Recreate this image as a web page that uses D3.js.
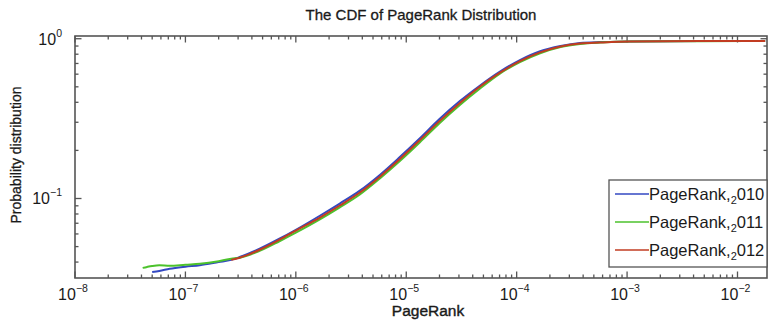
<!DOCTYPE html>
<html>
<head>
<meta charset="utf-8">
<script src="https://cdn.jsdelivr.net/npm/d3@7"></script>
<style>
  html, body { margin: 0; padding: 0; background: #fff; }
  svg { display: block; font-family: "Liberation Sans", Arial, sans-serif; }
</style>
</head>
<body>
<svg id="chart" width="771" height="325"></svg>
<script>
// PageRank values at which the cumulative distribution is sampled
const pagerank = [4.1e-8, 4.5e-8, 5.0e-8, 5.8e-8, 7.2e-8, 1.0e-7, 1.35e-7, 2.0e-7, 2.6e-7, 3.1e-7,
  4.7e-7, 7.1e-7, 1.0e-6, 1.65e-6, 2.5e-6, 3.8e-6, 5.8e-6, 8.7e-6, 1.33e-5, 2.0e-5,
  3.06e-5, 4.6e-5, 7.0e-5, 1.07e-4, 1.63e-4, 2.5e-4, 3.75e-4, 5.7e-4, 1.06e-3, 4.6e-3, 1.78e-2];

// cumulative probability per year (null = no sample)
const cdf2010 = [null, null, 0.0347, 0.0352, 0.0363, 0.0374, 0.0382, 0.0400, 0.0413, 0.0430,
  0.0485, 0.0560, 0.0637, 0.078, 0.093, 0.112, 0.141, 0.181, 0.238, 0.314,
  0.407, 0.506, 0.620, 0.735, 0.835, 0.900, 0.940, 0.953, 0.960, 0.967, 0.968];
const cdf2011 = [0.0368, 0.0373, 0.0378, 0.0382, 0.0379, 0.0385, 0.0390, 0.0405, 0.0420, 0.0426,
  0.0470, 0.0540, 0.0611, 0.0740, 0.0880, 0.106, 0.134, 0.171, 0.225, 0.296,
  0.385, 0.485, 0.603, 0.714, 0.811, 0.888, 0.927, 0.946, 0.960, 0.965, 0.968];
const cdf2012 = [null, null, null, null, null, null, null, null, 0.0413, 0.0426,
  0.0478, 0.0552, 0.0629, 0.076, 0.0904, 0.109, 0.1375, 0.176, 0.232, 0.305,
  0.396, 0.499, 0.611, 0.724, 0.822, 0.895, 0.933, 0.946, 0.960, 0.967, 0.968];

const seriesNames = ["2010", "2011", "2012"];
const seriesValues = [cdf2010, cdf2011, cdf2012];
const seriesColors = ["#3348c2", "#4cc22c", "#c23c22"];

const xTickExps = [-8, -7, -6, -5, -4, -3, -2];
const yTickExps = [-1, 0];

const title = "The CDF of PageRank Distribution";
const xLabel = "PageRank";
const yLabel = "Probability distribution";

const W = 771, H = 325;
const margin = { top: 36, right: 4, bottom: 47, left: 75 };
const iw = W - margin.left - margin.right;
const ih = H - margin.top - margin.bottom;

const svg = d3.select("#chart");
const g = svg.append("g").attr("transform", `translate(${margin.left},${margin.top})`);

const x = d3.scaleLog().domain([1e-8, 1.85e-2]).range([0, iw]);
const y = d3.scaleLog().domain([0.0318, 1.04]).range([ih, 0]);

const axisColor = "#555";
const textColor = "#1a1a1a";

// minor + major tick values
const xMinor = [];
for (let e = -8; e <= -2; e++) for (let m = 2; m <= 9; m++) {
  const v = m * Math.pow(10, e);
  if (v <= x.domain()[1]) xMinor.push(v);
}
const yMinor = [];
for (let e = -2; e <= -1; e++) for (let m = 2; m <= 9; m++) {
  const v = m * Math.pow(10, e);
  if (v >= y.domain()[0] && v <= 1) yMinor.push(v);
}
const xMajor = xTickExps.map(e => Math.pow(10, e));
const yMajor = yTickExps.map(e => Math.pow(10, e));

// plot frame
g.append("rect").attr("x", 0).attr("y", 0).attr("width", iw).attr("height", ih)
  .attr("fill", "none").attr("stroke", axisColor).attr("stroke-width", 1.6);

// inward ticks on all four sides
const tickG = g.append("g").attr("stroke", axisColor).attr("stroke-width", 1.3);
function xTicks(vals, len) {
  vals.forEach(v => {
    tickG.append("line").attr("x1", x(v)).attr("x2", x(v)).attr("y1", ih).attr("y2", ih - len);
    tickG.append("line").attr("x1", x(v)).attr("x2", x(v)).attr("y1", 0).attr("y2", len);
  });
}
function yTicks(vals, len) {
  vals.forEach(v => {
    tickG.append("line").attr("y1", y(v)).attr("y2", y(v)).attr("x1", 0).attr("x2", len);
    tickG.append("line").attr("y1", y(v)).attr("y2", y(v)).attr("x1", iw).attr("x2", iw - len);
  });
}
xTicks(xMinor, 3.5);
xTicks(xMajor, 6.5);
yTicks(yMinor, 3.5);
yTicks(yMajor, 6.5);

// tick labels 10^n
xTickExps.forEach(e => {
  const t = g.append("text").attr("x", x(Math.pow(10, e)) - 2).attr("y", ih + 22)
    .attr("text-anchor", "middle").attr("font-size", 16).attr("fill", textColor);
  t.append("tspan").text("10");
  t.append("tspan").attr("dy", -8).attr("font-size", 10.5).text("\u2212" + Math.abs(e));
});
yTickExps.forEach(e => {
  const t = g.append("text").attr("x", -13).attr("y", y(Math.pow(10, e)) + 6)
    .attr("text-anchor", "end").attr("font-size", 16).attr("fill", textColor);
  t.append("tspan").text("10");
  t.append("tspan").attr("dy", -8).attr("font-size", 10.5).text(e === 0 ? "0" : "\u2212" + Math.abs(e));
});

// title and axis labels
svg.append("text").attr("x", margin.left + iw / 2).attr("y", 20)
  .attr("text-anchor", "middle").attr("font-size", 15)
  .attr("fill", textColor).attr("stroke", textColor).attr("stroke-width", 0.3).text(title);
svg.append("text").attr("x", margin.left + iw / 2 + 7).attr("y", 316)
  .attr("text-anchor", "middle").attr("font-size", 15.5)
  .attr("fill", textColor).attr("stroke", textColor).attr("stroke-width", 0.4).text(xLabel);
svg.append("text").attr("transform", `translate(21,${margin.top + ih / 2 - 2}) rotate(-90)`)
  .attr("text-anchor", "middle").attr("font-size", 14)
  .attr("fill", textColor).attr("stroke", textColor).attr("stroke-width", 0.3).text(yLabel);

// CDF curves
const line = d3.line()
  .defined(d => d[1] != null)
  .x(d => x(d[0])).y(d => y(d[1]))
  .curve(d3.curveMonotoneX);

seriesValues.forEach((vals, i) => {
  const pts = pagerank.map((p, j) => [p, vals[j]]);
  g.append("path").datum(pts).attr("d", line)
    .attr("fill", "none").attr("stroke", seriesColors[i]).attr("stroke-width", 2);
});

// legend
const lg = g.append("g").attr("transform", `translate(${609 - margin.left},${180 - margin.top})`);
lg.append("rect").attr("width", 158).attr("height", 87)
  .attr("fill", "#fff").attr("stroke", axisColor).attr("stroke-width", 1.3);
seriesNames.forEach((name, i) => {
  const ry = 14 + i * 28;
  lg.append("line").attr("x1", 6).attr("x2", 40).attr("y1", ry).attr("y2", ry)
    .attr("stroke", seriesColors[i]).attr("stroke-width", 1.5);
  const t = lg.append("text").attr("x", 40).attr("y", ry + 6)
    .attr("font-size", 16.5).attr("fill", textColor);
  t.append("tspan").text("PageRank,");
  t.append("tspan").attr("dy", 4).attr("font-size", 11).text(name.slice(0, 1));
  t.append("tspan").attr("dy", -4).text(name.slice(1));
});
</script>
</body>
</html>
